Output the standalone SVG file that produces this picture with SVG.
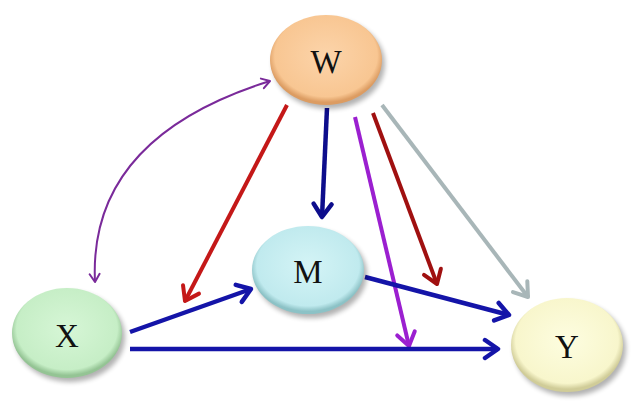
<svg xmlns="http://www.w3.org/2000/svg" width="635" height="413" viewBox="0 0 635 413">
<defs>
<style>
.lbl{font-family:"Liberation Serif","Times New Roman",serif;font-size:33px;fill:#111;text-anchor:middle}
.c{fill:none;stroke-linecap:butt}
</style>
<filter id="sh" x="-20%" y="-20%" width="140%" height="150%">
<feGaussianBlur stdDeviation="2.5"/>
</filter>
<radialGradient id="gW" cx="50%" cy="45%" r="52%"><stop offset="0" stop-color="#fcd4aa"/><stop offset="0.88" stop-color="#f8c692"/><stop offset="1" stop-color="#dc9c62"/></radialGradient>
<radialGradient id="gX" cx="50%" cy="45%" r="52%"><stop offset="0" stop-color="#d6f6d6"/><stop offset="0.88" stop-color="#c6eec6"/><stop offset="1" stop-color="#94c494"/></radialGradient>
<radialGradient id="gM" cx="50%" cy="45%" r="52%"><stop offset="0" stop-color="#d4f4f6"/><stop offset="0.88" stop-color="#c0eaee"/><stop offset="1" stop-color="#8cc2c6"/></radialGradient>
<radialGradient id="gY" cx="50%" cy="45%" r="52%"><stop offset="0" stop-color="#fdfde0"/><stop offset="0.88" stop-color="#f8f6cc"/><stop offset="1" stop-color="#d0cc98"/></radialGradient>
<marker id="aB" markerUnits="userSpaceOnUse" viewBox="-16 -12 20 24" markerWidth="20" markerHeight="24" refX="0" refY="0" orient="auto"><path d="M-13,-9 L0,0 L-13,9" fill="none" stroke="#1414a8" stroke-width="4.5" stroke-linecap="round" stroke-linejoin="round"/></marker>
<marker id="aN" markerUnits="userSpaceOnUse" viewBox="-16 -12 20 24" markerWidth="20" markerHeight="24" refX="0" refY="0" orient="auto"><path d="M-13,-9 L0,0 L-13,9" fill="none" stroke="#0d0d8c" stroke-width="4.5" stroke-linecap="round" stroke-linejoin="round"/></marker>
<marker id="aR" markerUnits="userSpaceOnUse" viewBox="-16 -12 20 24" markerWidth="20" markerHeight="24" refX="0" refY="0" orient="auto"><path d="M-13,-9 L0,0 L-13,9" fill="none" stroke="#c41818" stroke-width="4" stroke-linecap="round" stroke-linejoin="round"/></marker>
<marker id="aD" markerUnits="userSpaceOnUse" viewBox="-16 -12 20 24" markerWidth="20" markerHeight="24" refX="0" refY="0" orient="auto"><path d="M-13,-9 L0,0 L-13,9" fill="none" stroke="#a01010" stroke-width="4" stroke-linecap="round" stroke-linejoin="round"/></marker>
<marker id="aP" markerUnits="userSpaceOnUse" viewBox="-16 -12 20 24" markerWidth="20" markerHeight="24" refX="0" refY="0" orient="auto"><path d="M-13,-9 L0,0 L-13,9" fill="none" stroke="#9b1fd0" stroke-width="4" stroke-linecap="round" stroke-linejoin="round"/></marker>
<marker id="aG" markerUnits="userSpaceOnUse" viewBox="-16 -12 20 24" markerWidth="20" markerHeight="24" refX="0" refY="0" orient="auto"><path d="M-13,-9 L0,0 L-13,9" fill="none" stroke="#a8b6b8" stroke-width="4" stroke-linecap="round" stroke-linejoin="round"/></marker>
<marker id="aT" markerUnits="userSpaceOnUse" viewBox="-10 -8 12 16" markerWidth="12" markerHeight="16" refX="0" refY="0" orient="auto-start-reverse"><path d="M-8,-5 L0,0 L-8,5" fill="none" stroke="#7a2a9a" stroke-width="2" stroke-linecap="round" stroke-linejoin="round"/></marker>
</defs>
<rect width="635" height="413" fill="#ffffff"/>

<g id="connectors">
<path class="c" d="M95,282 Q88,138 270,81" stroke="#7a2a9a" stroke-width="2" marker-start="url(#aT)" marker-end="url(#aT)"/>
<path class="c" d="M287,105 L185,301" stroke="#c41818" stroke-width="4" marker-end="url(#aR)"/>
<path class="c" d="M327,108 L322,217" stroke="#0d0d8c" stroke-width="4.5" marker-end="url(#aN)"/>
<path class="c" d="M355,117 L409,346" stroke="#9b1fd0" stroke-width="4" marker-end="url(#aP)"/>
<path class="c" d="M373,113 L437,284" stroke="#a01010" stroke-width="4" marker-end="url(#aD)"/>
<path class="c" d="M382,105 L528,297" stroke="#a8b6b8" stroke-width="4" marker-end="url(#aG)"/>
<path class="c" d="M130,332 L251,289" stroke="#1414a8" stroke-width="4.5" marker-end="url(#aB)"/>
<path class="c" d="M365,277 L509,315" stroke="#1414a8" stroke-width="4.5" marker-end="url(#aB)"/>
<path class="c" d="M130,349 L498,349" stroke="#1414a8" stroke-width="4.5" marker-end="url(#aB)"/>
</g>

<g id="node-W">
<ellipse cx="329" cy="64" rx="56" ry="45" fill="#000" opacity="0.3" filter="url(#sh)"/>
<ellipse cx="326" cy="60" rx="56" ry="45" fill="url(#gW)"/>
<text class="lbl" x="326" y="73">W</text>
</g>
<g id="node-X">
<ellipse cx="70" cy="337" rx="55" ry="45" fill="#000" opacity="0.3" filter="url(#sh)"/>
<ellipse cx="67" cy="333" rx="55" ry="45" fill="url(#gX)"/>
<text class="lbl" x="67" y="347">X</text>
</g>
<g id="node-M">
<ellipse cx="311" cy="274" rx="56" ry="44" fill="#000" opacity="0.3" filter="url(#sh)"/>
<ellipse cx="308" cy="270" rx="56" ry="44" fill="url(#gM)"/>
<text class="lbl" x="308" y="283">M</text>
</g>
<g id="node-Y">
<ellipse cx="570" cy="349" rx="56" ry="47" fill="#000" opacity="0.3" filter="url(#sh)"/>
<ellipse cx="567" cy="345" rx="56" ry="47" fill="url(#gY)"/>
<text class="lbl" x="567" y="358">Y</text>
</g>
</svg>
